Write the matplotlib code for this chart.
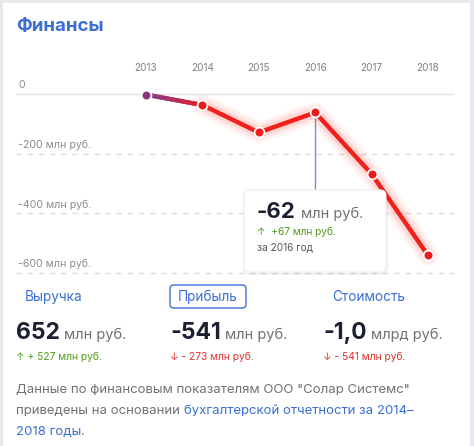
import numpy as np
import matplotlib
matplotlib.use("Agg")
import matplotlib.pyplot as plt
from matplotlib.patches import FancyBboxPatch, Rectangle
from matplotlib.collections import LineCollection

plt.rcParams['font.family'] = ['Inter', 'DejaVu Sans']

# ---- data ----
years = [2013, 2014, 2015, 2016, 2017, 2018]
profit = [-2, -37, -129, -62, -268, -541]
ytick_values = [0, -200, -400, -600]
ytick_labels = ["0", "-200 млн руб.", "-400 млн руб.", "-600 млн руб."]
title = "Финансы"
tabs = ["Выручка", "Прибыль", "Стоимость"]
tab_values = ["652", "-541", "-1,0"]
tab_units = ["млн руб.", "млн руб.", "млрд руб."]
tab_changes = ["↑ + 527 млн руб.", "↓ - 273 млн руб.", "↓ - 541 млн руб."]
tab_change_up = [True, False, False]
tooltip_year = 2016
tooltip_value = "-62"
tooltip_change = "↑  +67 млн руб."
tooltip_period = "за 2016 год"

W, H = 474, 446
fig = plt.figure(figsize=(W / 100, H / 100), dpi=100)
fig.patch.set_facecolor("#e7e9ec")
renderer = fig.canvas.get_renderer()

def fx(x):
    return x / W

def fy(y):
    return 1 - y / H

def width_px(t):
    return t.get_window_extent(renderer=renderer).width

# white card
fig.patches.append(Rectangle((fx(3), fy(446)), fx(467), 443 / H, transform=fig.transFigure,
                             facecolor="white", edgecolor="none", zorder=-5))

BLUE = "#3b6fd4"
GRAY = "#6f7277"
DARK = "#1d2033"
GREEN = "#4f9a1c"
REDT = "#e0322c"

fig.text(fx(16), fy(27), title, fontsize=13.5, fontweight="bold", color=BLUE, va="center", ha="left")

# ---- chart axes ----
px_per_year = 56.4
x0_px = 146
left_px, right_px = 16, 455
top_px, bot_px = 60, 282
zero_px = 94
px_per_unit = (273 - 94) / 600.0
xmin = years[0] - (x0_px - left_px) / px_per_year
xmax = years[0] + (right_px - x0_px) / px_per_year
ymax = (zero_px - top_px) / px_per_unit
ymin = -(bot_px - zero_px) / px_per_unit

ax = fig.add_axes([fx(left_px), fy(bot_px), (right_px - left_px) / W, (bot_px - top_px) / H])
ax.set_zorder(1)
ax.set_xlim(xmin, xmax)
ax.set_ylim(ymin, ymax)
ax.axis("off")
ax.patch.set_alpha(0)

for v, lab in zip(ytick_values, ytick_labels):
    if v == 0:
        ax.axhline(v, color="#e3e3e3", lw=1, zorder=1)
    else:
        ax.axhline(v, color="#dcdcdc", lw=1, ls=(0, (4, 4)), zorder=1)
    ax.text(xmin + 0.04, v + 12, lab, fontsize=7.6, color="#8a8d92", va="bottom", ha="left")

for yr in years:
    ax.text(yr, ymax - 28, str(yr), fontsize=7.2, color="#7d8085", ha="center", va="center")

# vertical tooltip line
ax.plot([tooltip_year, tooltip_year], [profit[years.index(tooltip_year)], -340],
        color="#7d8fd0", lw=1, zorder=2)

# glow
for w, a in [(16, 0.04), (12, 0.06), (8, 0.1)]:
    ax.plot(years[1:], profit[1:], color="#ff2a1a", lw=w, alpha=a, solid_capstyle="round",
            solid_joinstyle="round", zorder=3)

# gradient first segment
n = 30
xs = np.linspace(years[0], years[1], n + 1)
ys = np.linspace(profit[0], profit[1], n + 1)
segs = [[(xs[i], ys[i]), (xs[i + 1], ys[i + 1])] for i in range(n)]
c0 = np.array(matplotlib.colors.to_rgb("#8a3c82"))
c1 = np.array(matplotlib.colors.to_rgb("#ee1c1c"))
cols = [c0 + (c1 - c0) * (i / n) ** 1.5 for i in range(n)]
ax.add_collection(LineCollection(segs, colors=cols, linewidths=3.2, zorder=4, capstyle="round"))

ax.plot(years[1:], profit[1:], color="#f2201a", lw=3.2, solid_capstyle="round",
        solid_joinstyle="round", zorder=4)
ax.scatter(years[1:], profit[1:], s=50, color="#ef1a1a", edgecolor="white", linewidth=1.3, zorder=5)
ax.scatter(years[:1], profit[:1], s=50, color="#8b3a80", edgecolor="white", linewidth=1.3, zorder=5)

# tooltip box
tb = FancyBboxPatch((fx(244), fy(272)), fx(142), 82 / H, boxstyle="round,pad=0,rounding_size=0.012",
                    transform=fig.transFigure, facecolor="white", edgecolor="#efefef", lw=0.8, zorder=10)
shadow = FancyBboxPatch((fx(243), fy(275)), fx(145), 86 / H, boxstyle="round,pad=0,rounding_size=0.014",
                        transform=fig.transFigure, facecolor="#000000", alpha=0.05, edgecolor="none", zorder=9)
fig.patches.extend([shadow, tb])
t1 = fig.text(fx(257), fy(218), tooltip_value, fontsize=16, fontweight="bold", color=DARK,
              va="baseline", zorder=11)
fig.text(fx(257) + (width_px(t1) + 5) / W, fy(218), "млн руб.", fontsize=10.5, color=GRAY,
         va="baseline", zorder=11)
fig.text(fx(257), fy(232), tooltip_change, fontsize=7.3, color=GREEN, va="center", zorder=11)
fig.text(fx(257), fy(247), tooltip_period, fontsize=7.3, color="#55585d", va="center", zorder=11)

# ---- tabs ----
tab_x = [25, 178, 332]
val_x = [16, 170, 323]
for i in range(3):
    fig.text(fx(tab_x[i]), fy(297), tabs[i], fontsize=9.8, color=BLUE, va="center", ha="left")
    tv = fig.text(fx(val_x[i]), fy(339), tab_values[i], fontsize=16.5, fontweight="bold", color=DARK,
                  va="baseline", ha="left")
    fig.text(fx(val_x[i]) + (width_px(tv) + 4) / W, fy(339), tab_units[i], fontsize=10.5, color=GRAY,
             va="baseline", ha="left")
    fig.text(fx(val_x[i]), fy(357), tab_changes[i], fontsize=7.4,
             color=GREEN if tab_change_up[i] else REDT, va="center", ha="left")

box = FancyBboxPatch((fx(170), fy(308)), fx(76), 23 / H, boxstyle="round,pad=0,rounding_size=0.008",
                     transform=fig.transFigure, facecolor="none", edgecolor=BLUE, lw=1)
fig.patches.append(box)

# ---- footer ----
FS = 9.5
fig.text(fx(16), fy(390), 'Данные по финансовым показателям ООО "Солар Системс"', fontsize=FS,
         color=GRAY, va="center", ha="left")
p1 = fig.text(fx(16), fy(411), "приведены на основании", fontsize=FS, color=GRAY, va="center", ha="left")
fig.text(fx(16) + (width_px(p1) + 4) / W, fy(411), "бухгалтерской отчетности за 2014–", fontsize=FS,
         color=BLUE, va="center", ha="left")
p2 = fig.text(fx(16), fy(432), "2018 годы", fontsize=FS, color=BLUE, va="center", ha="left")
fig.text(fx(16) + width_px(p2) / W, fy(432), ".", fontsize=FS, color=GRAY, va="center", ha="left")

fig.savefig("out.png", dpi=100, facecolor=fig.get_facecolor())
